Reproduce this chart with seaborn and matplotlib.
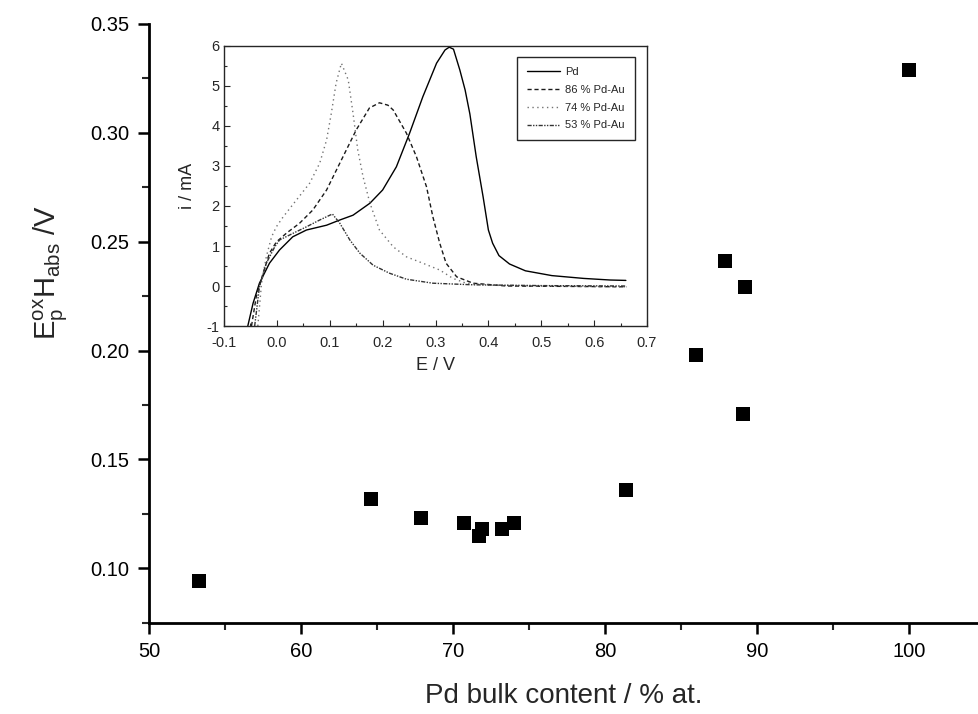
"""Hydrogen oxidation peak potential vs Pd bulk content, with CV inset."""

import matplotlib
matplotlib.use("Agg")
import matplotlib.pyplot as plt
from matplotlib.ticker import MultipleLocator
import pandas as pd
import seaborn as sns

# main scatter: Pd bulk content (% at.) vs peak potential (V)
pd_content = [53.3, 64.6, 67.9, 70.7, 71.9, 71.7, 73.2, 74.0, 81.4, 86.0, 87.9, 89.2, 89.1, 100.0]
peak_pot = [0.094, 0.132, 0.123, 0.121, 0.118, 0.115, 0.118, 0.121, 0.136, 0.198, 0.241, 0.229, 0.171, 0.329]

# inset voltammograms, E / V and i / mA
E_pd = [-0.055, -0.045, -0.033, -0.014, 0.005, 0.03, 0.056, 0.094, 0.119, 0.144, 0.176, 0.20,
        0.226, 0.251, 0.276, 0.302, 0.318, 0.326, 0.334, 0.346, 0.356, 0.365, 0.377, 0.39, 0.40,
        0.408, 0.42, 0.44, 0.47, 0.52, 0.58, 0.63, 0.66]
i_pd = [-1.0, -0.43, 0.07, 0.57, 0.9, 1.23, 1.4, 1.52, 1.65, 1.77, 2.07, 2.4,
        2.98, 3.82, 4.73, 5.57, 5.9, 5.97, 5.92, 5.4, 4.9, 4.3, 3.23, 2.23, 1.4,
        1.07, 0.76, 0.55, 0.38, 0.26, 0.19, 0.15, 0.14]

E_86 = [-0.048, -0.039, -0.026, -0.014, -0.001, 0.018, 0.043, 0.068, 0.094, 0.119, 0.15, 0.175,
        0.194, 0.21, 0.22, 0.245, 0.264, 0.283, 0.295, 0.308, 0.32, 0.34, 0.371, 0.434, 0.55, 0.661]
i_86 = [-1.0, -0.27, 0.32, 0.82, 1.1, 1.32, 1.57, 1.9, 2.4, 3.07, 3.9, 4.45,
        4.58, 4.52, 4.4, 3.82, 3.23, 2.48, 1.73, 1.07, 0.57, 0.23, 0.07, 0.0, -0.01, -0.02]

E_74 = [-0.036, -0.029, -0.02, -0.01, -0.001, 0.012, 0.037, 0.062, 0.081, 0.094, 0.103, 0.112,
        0.122, 0.135, 0.144, 0.153, 0.163, 0.176, 0.194, 0.22, 0.245, 0.276, 0.308, 0.333,
        0.358, 0.402, 0.5, 0.661]
i_74 = [-1.0, 0.07, 0.73, 1.23, 1.48, 1.73, 2.15, 2.57, 3.07, 3.65, 4.32, 5.07,
        5.57, 5.15, 4.32, 3.4, 2.73, 2.07, 1.4, 0.98, 0.73, 0.57, 0.4, 0.19,
        0.07, 0.02, 0.0, -0.02]

E_53 = [-0.042, -0.033, -0.02, -0.004, 0.005, 0.031, 0.056, 0.081, 0.105, 0.119, 0.138, 0.157,
        0.182, 0.213, 0.245, 0.295, 0.371, 0.5, 0.661]
i_53 = [-1.0, -0.02, 0.57, 0.98, 1.15, 1.32, 1.48, 1.65, 1.8, 1.57, 1.15, 0.82,
        0.52, 0.32, 0.17, 0.07, 0.03, 0.01, 0.0]

curve_labels = ["Pd", "86 % Pd-Au", "74 % Pd-Au", "53 % Pd-Au"]

sns.set_theme(style="white")
plt.rcParams.update({
    "font.family": ["Liberation Sans", "DejaVu Sans"],
    "mathtext.fontset": "custom",
    "mathtext.rm": "Liberation Sans",
    "mathtext.it": "Liberation Sans:italic",
    "axes.unicode_minus": False,
})

fig = plt.figure(figsize=(9.79, 7.14), dpi=100)
ax = fig.add_axes([0.1522, 0.1279, 0.8478, 0.8385])

df = pd.DataFrame({"content": pd_content, "potential": peak_pot})
sns.scatterplot(data=df, x="content", y="potential", marker="s", s=90,
                color="black", linewidth=0, ax=ax)

ax.set_xlim(50, 104.6)
ax.set_ylim(0.075, 0.35)
ax.xaxis.set_major_locator(MultipleLocator(10))
ax.xaxis.set_minor_locator(MultipleLocator(5))
ax.yaxis.set_major_locator(MultipleLocator(0.05))
ax.yaxis.set_minor_locator(MultipleLocator(0.025))
ax.yaxis.set_major_formatter(matplotlib.ticker.FormatStrFormatter("%.2f"))
for side in ("top", "right"):
    ax.spines[side].set_visible(False)
for side in ("left", "bottom"):
    ax.spines[side].set_linewidth(2.0)
    ax.spines[side].set_color("black")
ax.tick_params(which="major", direction="out", length=8, width=1.8, labelsize=14.5,
               colors="black", pad=6, left=True, bottom=True)
ax.tick_params(which="minor", direction="out", length=5, width=1.5, left=True, bottom=True)
ax.set_xlabel("Pd bulk content / % at.", fontsize=20, labelpad=16)
ax.set_ylabel(r"$\mathregular{E_p^{ox}H_{abs}}$ /V", fontsize=21)
ax.yaxis.set_label_coords(-0.095, 0.585)

# inset
ins = fig.add_axes([0.2288, 0.5434, 0.4321, 0.3922])
styles = [("-", "black"), ((0, (3, 2)), "0.1"), ((0, (1, 2.5)), "0.45"), ((0, (3, 1, 1, 1, 1, 1)), "0.2")]
for (E, i), lab, (ls, col) in zip([(E_pd, i_pd), (E_86, i_86), (E_74, i_74), (E_53, i_53)],
                                  curve_labels, styles):
    sns.lineplot(x=E, y=i, sort=False, estimator=None, ax=ins, color=col,
                 linewidth=1.0, linestyle=ls, label=lab)

ins.set_xlim(-0.1, 0.7)
ins.set_ylim(-1, 6)
ins.xaxis.set_major_locator(MultipleLocator(0.1))
ins.xaxis.set_minor_locator(MultipleLocator(0.05))
ins.yaxis.set_major_locator(MultipleLocator(1))
ins.yaxis.set_minor_locator(MultipleLocator(0.5))
ins.xaxis.set_major_formatter(matplotlib.ticker.FormatStrFormatter("%.1f"))
for sp in ins.spines.values():
    sp.set_linewidth(1.0)
    sp.set_color("0.15")
ins.tick_params(which="major", direction="in", length=4, width=0.8, labelsize=10.5,
                colors="0.15", left=True, bottom=True, pad=3)
ins.tick_params(axis="x", which="major", pad=7)
ins.tick_params(which="minor", direction="in", length=2.5, width=0.8, left=True, bottom=True)
ins.set_xlabel("E / V", fontsize=13, labelpad=5)
ins.set_ylabel("i / mA", fontsize=13, labelpad=8)
leg = ins.legend(loc="upper right", bbox_to_anchor=(0.985, 0.98), fontsize=8,
                 frameon=True, fancybox=False, edgecolor="0.15", framealpha=1,
                 handlelength=3.0, labelspacing=0.7, borderpad=0.9, handletextpad=0.5)
leg.get_frame().set_linewidth(1.0)

fig.savefig("out.png", dpi=100)
